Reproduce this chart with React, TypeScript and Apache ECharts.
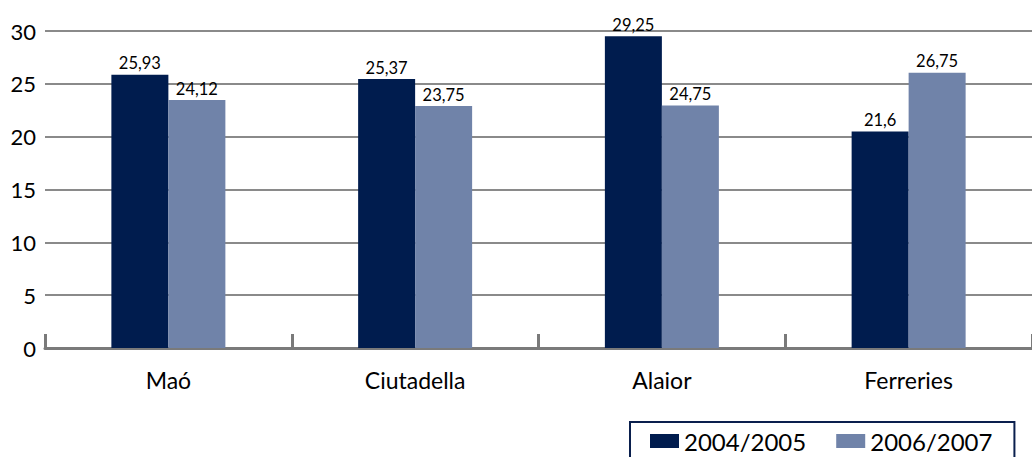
import React, { useEffect, useRef } from "react";
import * as echarts from "echarts";

const categories = ["Maó", "Ciutadella", "Alaior", "Ferreries"];
const seriesNames = ["2004/2005", "2006/2007"];
// bar heights as drawn in the picture
const values2004 = [25.86, 25.45, 29.5, 20.5];
const values2006 = [23.46, 22.9, 22.96, 26.05];
// printed value labels
const labels2004 = ["25,93", "25,37", "29,25", "21,6"];
const labels2006 = ["24,12", "23,75", "24,75", "26,75"];
const yTicks = [0, 5, 10, 15, 20, 25, 30];

const DARK = "#001c4e";
const LIGHT = "#7083a9";
const FONT = "Lato, 'Open Sans', sans-serif";

export default function App() {
  const ref = useRef<HTMLDivElement>(null);
  useEffect(() => {
    if (!ref.current) return;
    const chart = echarts.init(ref.current, undefined, { renderer: "svg" });
    const labelCommon = {
      show: true,
      position: "top",
      distance: 3,
      color: "#000",
      fontSize: 16.5,
      fontFamily: FONT,
    };
    chart.setOption({
      animation: false,
      backgroundColor: "#fff",
      grid: { left: 45, right: 0, top: 31, bottom: 109, containLabel: false },
      legend: {
        show: true,
        data: seriesNames,
        left: 630,
        top: 422,
        width: 379,
        borderColor: "#0a1f4d",
        borderWidth: 2,
        padding: [7, 22, 30, 20],
        itemGap: 30,
        itemWidth: 29,
        itemHeight: 14,
        icon: "rect",
        textStyle: { fontSize: 24, color: "#000", fontFamily: FONT, padding: [0, 0, 0, 0] },
      },
      xAxis: {
        type: "category",
        data: categories,
        axisLine: { show: true, lineStyle: { color: "#7a7a7a", width: 3 } },
        axisTick: { show: true, inside: true, length: 14, lineStyle: { color: "#7a7a7a", width: 3 } },
        axisLabel: { fontSize: 23, color: "#000", fontFamily: FONT, margin: 20 },
      },
      yAxis: {
        type: "value",
        min: yTicks[0],
        max: yTicks[yTicks.length - 1],
        interval: 5,
        axisLine: { show: false },
        axisTick: { show: false },
        axisLabel: { fontSize: 22, color: "#000", fontFamily: FONT, margin: 9 },
        splitLine: { show: true, lineStyle: { color: "#8a8a8a", width: 2 } },
      },
      series: [
        {
          name: seriesNames[0],
          type: "bar",
          data: values2004,
          barWidth: 57,
          barGap: "0%",
          itemStyle: { color: DARK },
          label: { ...labelCommon, formatter: (p: any) => labels2004[p.dataIndex] },
        },
        {
          name: seriesNames[1],
          type: "bar",
          data: values2006,
          barWidth: 57,
          barGap: "0%",
          itemStyle: { color: LIGHT },
          label: { ...labelCommon, formatter: (p: any) => labels2006[p.dataIndex] },
        },
      ],
    });
    return () => chart.dispose();
  }, []);
  return (
    <div
      ref={ref}
      style={{ position: "fixed", left: 0, top: 0, width: 1032, height: 457 }}
    />
  );
}
